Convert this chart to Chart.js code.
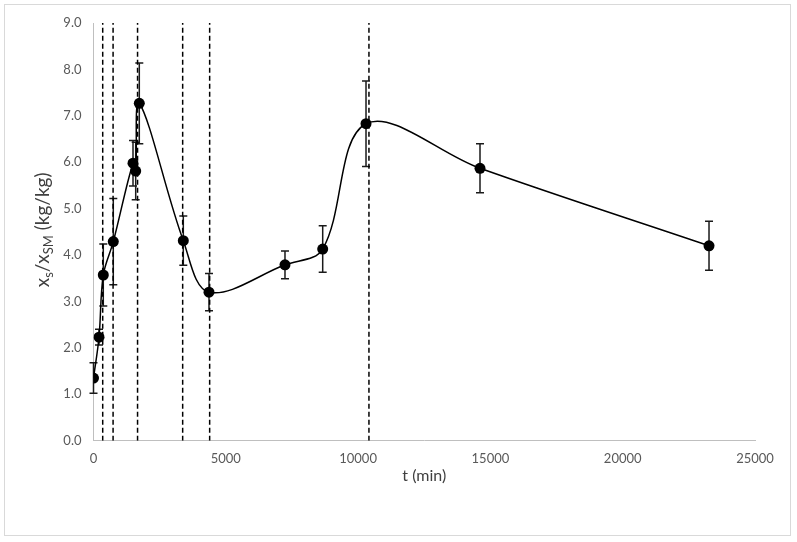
<!DOCTYPE html>
<html>
<head>
<meta charset="utf-8">
<script src="https://cdn.jsdelivr.net/npm/chart.js@4/dist/chart.umd.min.js"></script>
<style>
  html, body { margin: 0; padding: 0; background: #fff; }
  #wrap { width: 797px; height: 542px; }
</style>
</head>
<body>
<div id="wrap"><canvas id="chart" width="797" height="542"></canvas></div>
<script>
// t (min) and x_s/x_SM (kg/kg)
const times  = [0, 208, 370, 748, 1493, 1595, 1731, 3394, 4365, 7237, 8662, 10299, 14607, 23262];
const ratios = [1.35, 2.23, 3.57, 4.29, 5.98, 5.81, 7.27, 4.31, 3.20, 3.79, 4.13, 6.83, 5.87, 4.20];
const errors = [0.33, 0.17, 0.67, 0.93, 0.49, 0.62, 0.87, 0.53, 0.40, 0.30, 0.50, 0.92, 0.53, 0.53];
// dashed vertical markers
const markerTimes = [348, 740, 1665, 3370, 4390, 10410];
const xTicks = [0, 5000, 10000, 15000, 20000, 25000];
const yMin = 0, yMax = 9;

const FONT = "Lato, 'Liberation Sans', sans-serif";

const points = times.map((t, i) => ({ x: t, y: ratios[i] }));

const datasets = [{
  data: points,
  showLine: true,
  borderColor: '#000',
  backgroundColor: '#000',
  borderWidth: 1.5,
  tension: 0.35,
  pointRadius: 5.5,
  pointBorderWidth: 0
}];
markerTimes.forEach(t => {
  datasets.push({
    data: [{ x: t, y: yMin }, { x: t, y: yMax }],
    showLine: true,
    borderColor: '#000',
    borderWidth: 1.5,
    borderDash: [5, 3],
    pointRadius: 0
  });
});

const errorBars = {
  id: 'errorBars',
  beforeDatasetsDraw(chart) {
    const { ctx, scales: { x, y } } = chart;
    ctx.save();
    ctx.strokeStyle = '#1a1a1a';
    ctx.lineWidth = 1.5;
    times.forEach((t, i) => {
      const px = x.getPixelForValue(t);
      const top = y.getPixelForValue(ratios[i] + errors[i]);
      const bot = y.getPixelForValue(ratios[i] - errors[i]);
      ctx.beginPath();
      ctx.moveTo(px, top); ctx.lineTo(px, bot);
      ctx.moveTo(px - 4, top); ctx.lineTo(px + 4, top);
      ctx.moveTo(px - 4, bot); ctx.lineTo(px + 4, bot);
      ctx.stroke();
    });
    ctx.restore();
  }
};

const decorations = {
  id: 'decorations',
  beforeDraw(chart) {
    const ctx = chart.ctx;
    ctx.save();
    ctx.fillStyle = '#fff';
    ctx.fillRect(0, 0, chart.width, chart.height);
    ctx.strokeStyle = '#d9d9d9';
    ctx.lineWidth = 1;
    ctx.strokeRect(4.5, 4.5, 786, 531);
    ctx.restore();
  },
  afterDraw(chart) {
    const ctx = chart.ctx;
    const area = chart.chartArea;
    ctx.save();
    ctx.fillStyle = '#404040';
    // x title
    ctx.font = '16px ' + FONT;
    ctx.textAlign = 'center';
    ctx.textBaseline = 'middle';
    ctx.fillText('t (min)', (area.left + area.right) / 2, 476);
    // y title with subscripts
    const parts = [
      ['x', false], ['s', true], ['/x', false], ['SM', true], [' (kg/kg)', false]
    ];
    const big = '19px ' + FONT, small = '13px ' + FONT;
    let total = 0;
    parts.forEach(([s, sub]) => { ctx.font = sub ? small : big; total += ctx.measureText(s).width; });
    ctx.translate(44, (area.top + area.bottom) / 2 - 2);
    ctx.rotate(-Math.PI / 2);
    ctx.textAlign = 'left';
    ctx.textBaseline = 'alphabetic';
    let cx = -total / 2;
    parts.forEach(([s, sub]) => {
      ctx.font = sub ? small : big;
      ctx.fillText(s, cx, sub ? 9 : 5);
      cx += ctx.measureText(s).width;
    });
    ctx.restore();
  }
};

new Chart(document.getElementById('chart'), {
  type: 'scatter',
  data: { datasets },
  plugins: [errorBars, decorations],
  options: {
    responsive: false,
    animation: false,
    layout: { padding: { left: 0, top: 23, right: 42, bottom: 0 } },
    plugins: { legend: { display: false }, tooltip: { enabled: false } },
    scales: {
      x: {
        type: 'linear',
        min: xTicks[0],
        max: xTicks[xTicks.length - 1],
        afterFit(scale) { scale.height = 101.3; },
        afterBuildTicks(scale) { scale.ticks = xTicks.map(v => ({ value: v })); },
        grid: { display: false, drawTicks: false },
        border: { display: true, color: '#bfbfbf', width: 1 },
        ticks: {
          color: '#595959',
          font: { family: FONT, size: 13 },
          padding: 10,
          maxRotation: 0,
          callback: v => String(v)
        }
      },
      y: {
        min: yMin,
        max: yMax,
        afterFit(scale) { scale.width = 93.5; },
        grid: { display: false, drawTicks: false },
        border: { display: true, color: '#bfbfbf', width: 1 },
        ticks: {
          stepSize: 1,
          color: '#595959',
          font: { family: FONT, size: 13 },
          padding: 12,
          callback: v => v.toFixed(1)
        }
      }
    }
  }
});
</script>
</body>
</html>
